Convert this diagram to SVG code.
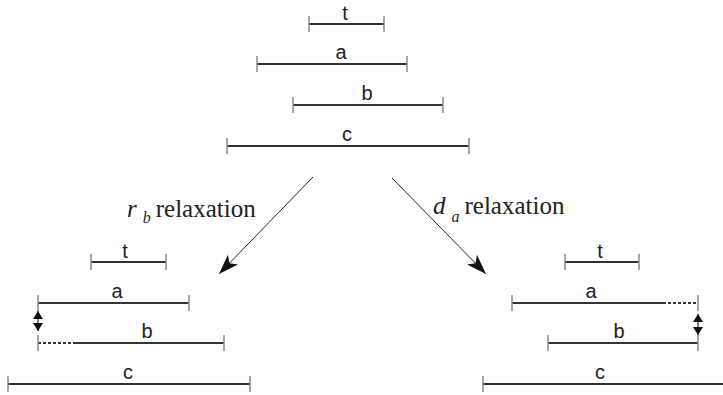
<svg xmlns="http://www.w3.org/2000/svg" width="723" height="395" viewBox="0 0 723 395">
<style>
.bar{stroke:#333;stroke-width:2;fill:none}
.dash{stroke:#333;stroke-width:2;fill:none;stroke-dasharray:3 2}
.tick{stroke:#888;stroke-width:1.5}
.lbl{font-family:'Liberation Sans',Arial,sans-serif;font-size:20px;fill:#222;text-anchor:middle}
.rel{font-family:'Liberation Serif','DejaVu Serif',serif;font-size:25px;fill:#222}
.conn{stroke:#222;stroke-width:1;fill:none}
.dbl{stroke:#222;stroke-width:1.2;fill:none}
</style>
<defs>
<marker id="ah" markerUnits="userSpaceOnUse" markerWidth="22" markerHeight="14" refX="20" refY="7" orient="auto">
<path d="M0,0 L20,7 L0,14 L5,7 Z" fill="#111"/>
</marker>
<marker id="sa" markerUnits="userSpaceOnUse" markerWidth="10" markerHeight="10" refX="8" refY="5" orient="auto-start-reverse">
<path d="M0,0 L8,5 L0,10 Z" fill="#111"/>
</marker>
</defs>
<rect width="723" height="395" fill="#fff"/>

<g id="top">
<g id="top-t"><line class="bar" x1="309" y1="24" x2="384" y2="24"/><line class="tick" x1="309" y1="16" x2="309" y2="32"/><line class="tick" x1="384" y1="16" x2="384" y2="32"/><text class="lbl" x="345" y="20">t</text></g>
<g id="top-a"><line class="bar" x1="257" y1="64" x2="407" y2="64"/><line class="tick" x1="257" y1="56" x2="257" y2="72"/><line class="tick" x1="407" y1="56" x2="407" y2="72"/><text class="lbl" x="341" y="59">a</text></g>
<g id="top-b"><line class="bar" x1="293" y1="105" x2="443" y2="105"/><line class="tick" x1="293" y1="97" x2="293" y2="113"/><line class="tick" x1="443" y1="97" x2="443" y2="113"/><text class="lbl" x="367" y="100">b</text></g>
<g id="top-c"><line class="bar" x1="227" y1="146" x2="469" y2="146"/><line class="tick" x1="227" y1="138" x2="227" y2="154"/><line class="tick" x1="469" y1="138" x2="469" y2="154"/><text class="lbl" x="347" y="141">c</text></g>
</g>

<g id="connectors">
<line class="conn" x1="313" y1="177" x2="219" y2="274" marker-end="url(#ah)"/>
<line class="conn" x1="392" y1="178" x2="486" y2="274" marker-end="url(#ah)"/>
</g>

<g id="label-rb"><text class="rel" x="127" y="217"><tspan font-style="italic">r</tspan><tspan font-style="italic" font-size="16" dx="6" dy="6">b</tspan><tspan dx="5" dy="-6">relaxation</tspan></text></g>
<g id="label-da"><text class="rel" x="433" y="214"><tspan font-style="italic">d</tspan><tspan font-style="italic" font-size="16" dx="6" dy="8">a</tspan><tspan dx="5" dy="-8">relaxation</tspan></text></g>

<g id="left">
<g id="left-t"><line class="bar" x1="91" y1="262" x2="166" y2="262"/><line class="tick" x1="91" y1="254" x2="91" y2="270"/><line class="tick" x1="166" y1="254" x2="166" y2="270"/><text class="lbl" x="125" y="258">t</text></g>
<g id="left-a"><line class="bar" x1="38" y1="303" x2="189" y2="303"/><line class="tick" x1="38" y1="295" x2="38" y2="311"/><line class="tick" x1="189" y1="295" x2="189" y2="311"/><text class="lbl" x="117" y="298">a</text></g>
<g id="left-b"><line class="dash" x1="38" y1="343" x2="76" y2="343"/><line class="bar" x1="76" y1="343" x2="224" y2="343"/><line class="tick" x1="38" y1="335" x2="38" y2="351"/><line class="tick" x1="224" y1="335" x2="224" y2="351"/><text class="lbl" x="147" y="338">b</text></g>
<g id="left-c"><line class="bar" x1="8" y1="384" x2="250" y2="384"/><line class="tick" x1="8" y1="376" x2="8" y2="392"/><line class="tick" x1="250" y1="376" x2="250" y2="392"/><text class="lbl" x="128" y="379">c</text></g>
<g id="left-shift"><line class="dbl" x1="38" y1="311" x2="38" y2="331" marker-start="url(#sa)" marker-end="url(#sa)"/></g>
</g>

<g id="right">
<g id="right-t"><line class="bar" x1="565" y1="262" x2="639" y2="262"/><line class="tick" x1="565" y1="254" x2="565" y2="270"/><line class="tick" x1="639" y1="254" x2="639" y2="270"/><text class="lbl" x="600" y="258">t</text></g>
<g id="right-a"><line class="bar" x1="512" y1="303" x2="663" y2="303"/><line class="dash" x1="663" y1="303" x2="698" y2="303"/><line class="tick" x1="512" y1="295" x2="512" y2="311"/><line class="tick" x1="698" y1="295" x2="698" y2="311"/><text class="lbl" x="591" y="298">a</text></g>
<g id="right-b"><line class="bar" x1="548" y1="343" x2="698" y2="343"/><line class="tick" x1="548" y1="335" x2="548" y2="351"/><line class="tick" x1="698" y1="335" x2="698" y2="351"/><text class="lbl" x="619" y="338">b</text></g>
<g id="right-c"><line class="bar" x1="483" y1="384" x2="723" y2="384"/><line class="tick" x1="483" y1="376" x2="483" y2="392"/><text class="lbl" x="600" y="379">c</text></g>
<g id="right-shift"><line class="dbl" x1="698" y1="314" x2="698" y2="335" marker-start="url(#sa)" marker-end="url(#sa)"/></g>
</g>
</svg>
